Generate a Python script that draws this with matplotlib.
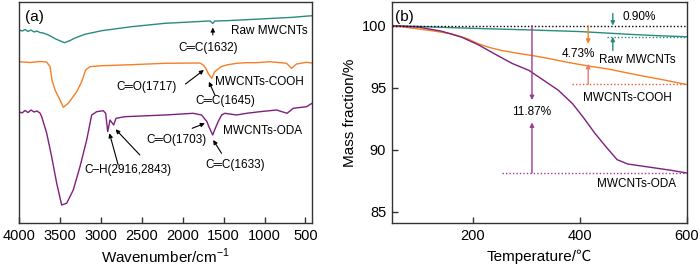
import matplotlib
matplotlib.use("Agg")
import matplotlib.pyplot as plt

plt.rcParams['font.family'] = ['Liberation Sans', 'DejaVu Sans', 'Noto Sans CJK SC']

# ---------------- FTIR data (a) ----------------
raw_wn = [4000, 3960, 3925, 3890, 3855, 3815, 3780, 3745, 3705, 3640, 3550, 3445, 3375, 3315,
          3195, 2990, 2625, 2215, 1790, 1690, 1665, 1632, 1610, 1465, 1055, 655, 420]
raw_t = [193, 192, 193.5, 191.5, 193, 191, 192, 190.5, 190, 188, 184, 180.3, 182.5, 185,
         188.7, 192.3, 196.3, 199.7, 201.5, 202, 202, 199.5, 202, 202.3, 204, 205.7, 207.3]

cooh_wn = [4000, 3866, 3744, 3662, 3621, 3597, 3560, 3499, 3459, 3398, 3295, 3234, 3186, 3133,
           2990, 2624, 2217, 1790, 1750, 1717, 1689, 1645, 1610, 1530, 1464, 1342, 1220, 1098,
           935, 731, 670, 609, 487, 420]
cooh_t = [161.3, 160.5, 161.5, 161, 156.3, 143, 133, 123, 115.7, 119.7, 131.3, 141.3, 153, 156.3,
          157.3, 158.3, 159.7, 160, 158, 154.7, 149.7, 144.7, 151.3, 156.3, 158, 159.7, 160.3, 160.3,
          161.3, 159.7, 154.7, 159, 160.7, 160]

oda_wn = [4000, 3963, 3927, 3890, 3853, 3817, 3780, 3744, 3723, 3662, 3601, 3540, 3479, 3418,
          3337, 3255, 3173, 3112, 3051, 2971, 2941, 2916, 2888, 2843, 2815, 2706, 2421, 2217,
          1872, 1769, 1703, 1680, 1633, 1610, 1567, 1525, 1485, 1342, 1220, 1057, 854, 724,
          650, 487, 420]
oda_t = [111.3, 110, 112.5, 110.5, 113, 111, 112, 110, 106.3, 90, 66.3, 40, 18, 19.7,
         33, 56.3, 83, 108, 111.3, 112.3, 109.7, 91.3, 103, 98, 104.7, 106.3, 107.3, 108,
         109.7, 108, 101.3, 96.3, 88, 93, 101.3, 108, 109.7, 108, 109.7, 111.3, 113, 109.7,
         114.7, 116.3, 119.7]

ir_ticks = [4000, 3500, 3000, 2500, 2000, 1500, 1000, 500]

# ---------------- TGA data (b) ----------------
tga_raw_T = [50, 100, 150, 200, 300, 400, 450, 500, 550, 600]
tga_raw_m = [100, 99.93, 99.85, 99.78, 99.66, 99.52, 99.40, 99.28, 99.18, 99.10]

tga_cooh_T = [50, 99, 130, 161, 190, 211, 233, 255, 283, 311, 336, 380, 420, 451, 513, 560, 600]
tga_cooh_m = [100, 99.73, 99.55, 99.33, 98.95, 98.53, 98.22, 97.99, 97.78, 97.59, 97.40, 97.02,
              96.72, 96.52, 95.98, 95.60, 95.25]

tga_oda_T = [50, 100, 143, 180, 211, 242, 274, 305, 336, 360, 387, 407, 429, 450, 470, 490, 530, 570, 600]
tga_oda_m = [100, 99.87, 99.54, 99.06, 98.45, 97.70, 96.95, 96.40, 95.50, 94.80, 93.70, 92.60,
             91.30, 90.20, 89.20, 88.85, 88.60, 88.35, 88.13]

loss_raw, loss_cooh, loss_oda = 0.90, 4.73, 11.87

c_teal = '#2a8a80'
c_orange = '#f57f25'
c_purple = '#7e1f7e'
c_frame = '#333333'

fig = plt.figure(figsize=(7.0, 2.69), dpi=100)
axA = fig.add_axes([19/700, 1-223/269, (312-19)/700, 221/269])
axB = fig.add_axes([391.7/700, 1-223/269, (686.7-391.7)/700, 221/269])

for ax in (axA, axB):
    for s in ax.spines.values():
        s.set_color(c_frame)
        s.set_linewidth(1.0)
    ax.tick_params(direction='in', length=4, width=1.0, color=c_frame, labelsize=10.5, pad=4,
                   top=False, right=False)

# ---- panel (a)
axA.plot(raw_wn, raw_t, color=c_teal, lw=1.0)
axA.plot(cooh_wn, cooh_t, color=c_orange, lw=1.0)
axA.plot(oda_wn, oda_t, color=c_purple, lw=1.0)
axA.set_xlim(4000, 420)
axA.set_ylim(0, 221)
axA.set_xticks(ir_ticks)
axA.set_yticks([])

fs = 8.5
ap = dict(arrowstyle='-|>', color='k', lw=0.8, mutation_scale=6, shrinkA=0, shrinkB=0)
axA.text(471, 192, 'Raw MWCNTs', fontsize=fs, ha='right', va='center')
axA.text(1692, 175, 'C\u2550C(1632)', fontsize=fs, ha='center', va='center')
axA.annotate('', xy=(1632, 195.5), xytext=(1632, 188), arrowprops=ap)
axA.text(2071, 136, 'C\u2550O(1717)', fontsize=fs, ha='right', va='center')
axA.annotate('', xy=(1741, 153), xytext=(1966, 139), arrowprops=ap)
axA.text(1607, 141, 'MWCNTs-COOH', fontsize=fs, ha='left', va='center')
axA.text(1479, 122, 'C\u2550C(1645)', fontsize=fs, ha='center', va='center')
axA.annotate('', xy=(1680, 141.3), xytext=(1607, 128), arrowprops=ap)
axA.text(1509, 92.3, 'MWCNTs-ODA', fontsize=fs, ha='left', va='center')
axA.text(1705, 83, 'C\u2550O(1703)', fontsize=fs, ha='right', va='center')
axA.annotate('', xy=(1729, 99.7), xytext=(1884, 94.7), arrowprops=ap)
axA.text(1363, 58, 'C\u2550C(1633)', fontsize=fs, ha='center', va='center')
axA.annotate('', xy=(1628, 83), xytext=(1525, 69.7), arrowprops=ap)
axA.text(2663, 53, 'C\u2013H(2916,2843)', fontsize=fs, ha='center', va='center')
axA.annotate('', xy=(2895, 89.7), xytext=(2788, 58), arrowprops=ap)
axA.annotate('', xy=(2820, 93.7), xytext=(2523, 68), arrowprops=ap)
axA.text(0.02, 0.93, '(a)', transform=axA.transAxes, fontsize=11, ha='left', va='center')

fig.text(165.5/700, 1-256.7/269, 'Wavenumber/cm$^{\\mathregular{-1}}$', fontsize=11, ha='center', va='center')

# ---- panel (b)
axB.plot(tga_raw_T, tga_raw_m, color=c_teal, lw=1.0)
axB.plot(tga_cooh_T, tga_cooh_m, color=c_orange, lw=1.0)
axB.plot(tga_oda_T, tga_oda_m, color=c_purple, lw=1.0)
axB.set_xlim(49, 600)
axB.set_ylim(84.1, 101.9)
axB.set_xticks([200, 400, 600])
axB.set_yticks([85, 90, 95, 100])

end_raw = 100 - loss_raw
end_cooh = 100 - loss_cooh
end_oda = 100 - loss_oda
axB.plot([50, 600], [100, 100], color='k', lw=1.0, ls=(0, (1, 1.5)))
axB.plot([451, 600], [end_raw, end_raw], color=c_teal, lw=1.0, ls=(0, (1, 1.5)))
axB.plot([386, 600], [end_cooh, end_cooh], color='#f05a3a', lw=1.0, ls=(0, (1, 1.5)))
axB.plot([255, 600], [end_oda, end_oda], color='#a03a9a', lw=1.0, ls=(0, (1, 1.5)))

def arr(ax, x, y0, y1, color):
    ax.annotate('', xy=(x, y1), xytext=(x, y0),
                arrowprops=dict(arrowstyle='-|>', color=color, lw=1.0, mutation_scale=6,
                                shrinkA=0, shrinkB=0))

arr(axB, 462, 100.97, 100.0, c_teal)
arr(axB, 462, 98.0, end_raw, c_teal)
arr(axB, 416, 100.0, 98.53, c_orange)
arr(axB, 416, end_cooh, 96.92, '#f07a6a')
arr(axB, 311, 100.0, 94.0, '#9a3d92')
arr(axB, 311, end_oda, 92.2, '#9a3d92')

axB.text(480, 100.72, '0.90%', fontsize=fs, ha='left', va='center')
axB.text(429, 97.72, '4.73%', fontsize=fs, ha='right', va='center')
axB.text(437, 97.24, 'Raw MWCNTs', fontsize=fs, ha='left', va='center')
axB.text(406, 94.16, 'MWCNTs-COOH', fontsize=fs, ha='left', va='center')
axB.text(311, 93.03, '11.87%', fontsize=fs, ha='center', va='center')
axB.text(432, 87.27, 'MWCNTs-ODA', fontsize=fs, ha='left', va='center')
axB.text(0.01, 0.93, '(b)', transform=axB.transAxes, fontsize=11, ha='left', va='center')

fig.text(350/700, 1-112.5/269, 'Mass fraction/%', fontsize=11, rotation=90, ha='center', va='center')
fig.text(539/700, 1-256.7/269, 'Temperature/\u2103', fontsize=11, ha='center', va='center',
         family=['Liberation Sans', 'Noto Sans CJK SC', 'DejaVu Sans'])

fig.savefig('out.png', dpi=100)
